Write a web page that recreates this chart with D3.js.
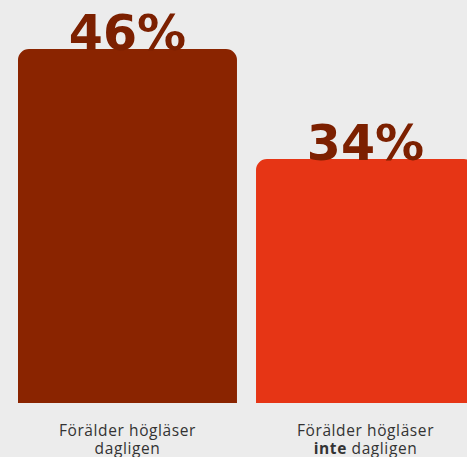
<!DOCTYPE html>
<html><head><meta charset="utf-8">
<script src="https://cdn.jsdelivr.net/npm/d3@7"></script>
<style>
html,body{margin:0;padding:0;background:#ececec;}
svg{display:block;}
</style></head>
<body>
<script>
const categories = ["Förälder högläser dagligen", "Förälder högläser inte dagligen"];
const values = [46, 34];
const valueLabels = ["46%", "34%"];
const labelLines = [
  [[{t:"Förälder högläser", b:false}], [{t:"dagligen", b:false}]],
  [[{t:"Förälder högläser", b:false}], [{t:"inte", b:true}, {t:" dagligen", b:false}]]
];
const colors = ["#8a2400", "#e63515"];

const W = 467, H = 457;
const svg = d3.select("body").append("svg").attr("width", W).attr("height", H);
svg.append("rect").attr("width", W).attr("height", H).attr("fill", "#ececec");

const x = d3.scaleBand().domain(categories).range([18, 475]).paddingInner(0.08).paddingOuter(0);
const y = d3.scaleLinear().domain([7.4, 46]).range([403, 49]);
const r = 11;

function barPath(x0, y0, w, h) {
  const p = d3.path();
  p.moveTo(x0, y0 + h);
  p.lineTo(x0, y0 + r);
  p.arcTo(x0, y0, x0 + r, y0, r);
  p.lineTo(x0 + w - r, y0);
  p.arcTo(x0 + w, y0, x0 + w, y0 + r, r);
  p.lineTo(x0 + w, y0 + h);
  p.closePath();
  return p.toString();
}

const g = svg.append("g");
categories.forEach((c, i) => {
  const bx = x(c), bw = x.bandwidth();
  const by = y(values[i]), bh = y.range()[0] - by;
  g.append("path").attr("d", barPath(bx, by, bw, bh)).attr("fill", colors[i]);
  g.append("text")
    .attr("x", bx + bw / 2).attr("y", by + 0.5)
    .attr("text-anchor", "middle")
    .attr("font-family", "'DejaVu Sans', sans-serif")
    .attr("font-weight", 700)
    .attr("font-size", 49)
    .attr("fill", "#7c2000")
    .text(valueLabels[i]);
  labelLines[i].forEach((line, li) => {
    const t = g.append("text")
      .attr("x", bx + bw / 2).attr("y", 436 + li * 17.5)
      .attr("text-anchor", "middle")
      .attr("font-family", "'Open Sans', sans-serif")
      .attr("font-size", 15.5)
      .attr("letter-spacing", 0.6)
      .attr("fill", "#333");
    line.forEach(seg => t.append("tspan").attr("font-weight", seg.b ? 700 : 400).text(seg.t));
  });
});
</script>
</body></html>
